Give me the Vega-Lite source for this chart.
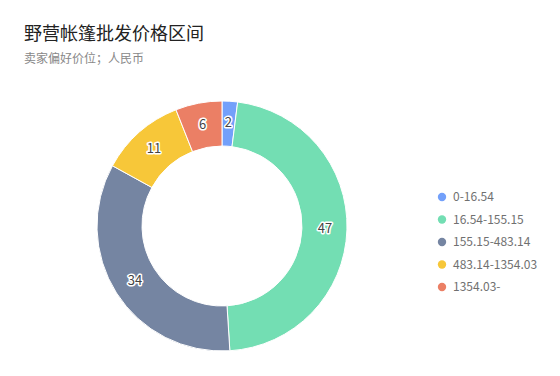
{
  "$schema": "https://vega.github.io/schema/vega-lite/v6.json",
  "autosize": "none",
  "width": 396,
  "height": 252,
  "padding": {"left": 24, "top": 100, "right": 140, "bottom": 24},
  "background": "white",
  "config": {"view": {"stroke": null}, "font": "Noto Sans CJK SC"},
  "title": {
    "text": "野营帐篷批发价格区间",
    "subtitle": "卖家偏好价位；人民币",
    "anchor": "start",
    "frame": "group",
    "font": "Noto Sans CJK SC",
    "fontSize": 18,
    "fontWeight": "normal",
    "color": "#222",
    "subtitleFont": "Noto Sans CJK SC",
    "subtitleFontSize": 12,
    "subtitleColor": "#888",
    "subtitlePadding": 10,
    "offset": 34
  },
  "data": {
    "values": [
      {"range": "0-16.54", "value": 2, "order": 1},
      {"range": "16.54-155.15", "value": 47, "order": 2},
      {"range": "155.15-483.14", "value": 34, "order": 3},
      {"range": "483.14-1354.03", "value": 11, "order": 4},
      {"range": "1354.03-", "value": 6, "order": 5}
    ]
  },
  "encoding": {
    "theta": {"field": "value", "type": "quantitative", "stack": true},
    "order": {"field": "order", "type": "quantitative"},
    "color": {
      "field": "range",
      "type": "nominal",
      "sort": null,
      "scale": {
        "domain": ["0-16.54", "16.54-155.15", "155.15-483.14", "483.14-1354.03", "1354.03-"],
        "range": ["#73A0FA", "#73DEB3", "#7585A2", "#F7C739", "#EB7F65"]
      },
      "legend": {
        "title": null,
        "orient": "none",
        "legendX": 412,
        "legendY": 91,
        "symbolType": "circle",
        "symbolSize": 70,
        "symbolStrokeWidth": 0,
        "labelFontSize": 12,
        "labelColor": "#707070",
        "labelFont": "Noto Sans CJK SC",
        "rowPadding": 10.5,
        "labelOffset": 5
      }
    }
  },
  "layer": [
    {
      "mark": {"type": "arc", "outerRadius": 125, "innerRadius": 80, "stroke": "white", "strokeWidth": 1}
    },
    {
      "mark": {"type": "text", "radius": 103, "fontSize": 13, "stroke": "white", "strokeWidth": 3, "strokeJoin": "round", "fill": "white", "font": "Noto Sans CJK SC"},
      "encoding": {"text": {"field": "value", "type": "quantitative"}, "color": {"value": "white"}}
    },
    {
      "mark": {"type": "text", "radius": 103, "fontSize": 13, "font": "Noto Sans CJK SC"},
      "encoding": {"text": {"field": "value", "type": "quantitative"}, "color": {"value": "#444"}}
    }
  ]
}
